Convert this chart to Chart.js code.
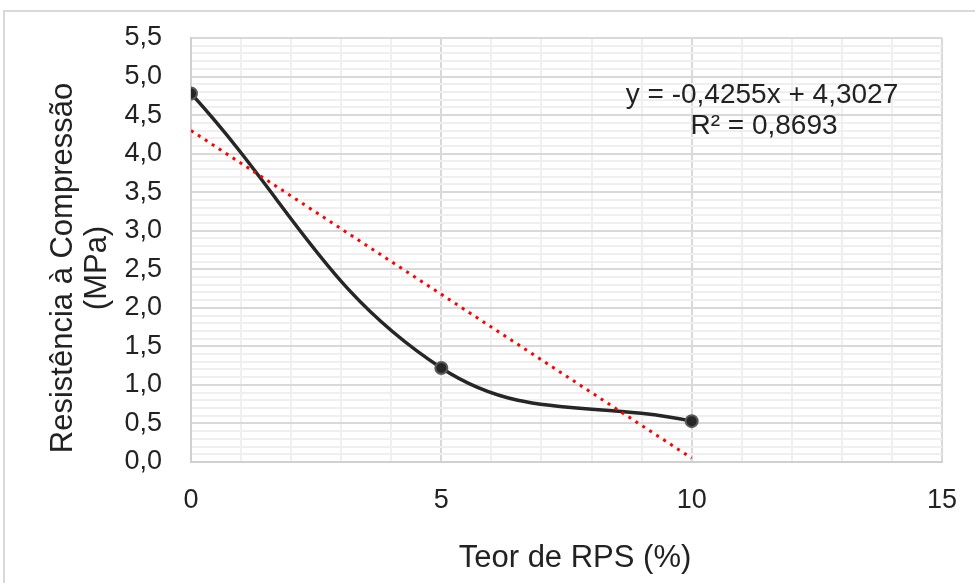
<!DOCTYPE html>
<html>
<head>
<meta charset="utf-8">
<script src="https://cdn.jsdelivr.net/npm/chart.js@4"></script>
<style>
    body { margin: 0; background: #fff; }
</style>
</head>
<body>
<canvas id="chartRPS" width="975" height="583"></canvas>
<script>
var teorRPS = [0, 5, 10];
var resistencia = [4.78, 1.22, 0.53];
var tendenciaX = [0, 10];
var tendenciaY = [4.30, 0.05];
var equacao = ["y = -0,4255x + 4,3027", "R² = 0,8693"];
var tituloX = "Teor de RPS (%)";
var tituloY = ["Resistência à Compressão", "(MPa)"];

var fonte = "'Liberation Sans', Arial, sans-serif";
var corTexto = '#222222';

function isMultiple(v, step) {
    var r = v / step;
    return Math.abs(r - Math.round(r)) < 1e-6;
}

function toPoints(xs, ys) {
    var list = [];
    for (var i = 0; i < xs.length; i++) {
        list.push({ x: xs[i], y: ys[i] });
    }
    return list;
}

// moldura cinza e textos (eixos + equacao da linha de tendencia)
var textosPlugin = {
    id: 'textos',
    beforeDraw: function (chart) {
        var ctx = chart.ctx;
        ctx.save();
        ctx.fillStyle = '#ffffff';
        ctx.fillRect(0, 0, chart.width, chart.height);
        ctx.strokeStyle = '#d9d9d9';
        ctx.lineWidth = 2;
        ctx.strokeRect(4, 11, 1200, 1200);
        ctx.restore();
    },
    afterDraw: function (chart) {
        var ctx = chart.ctx;
        ctx.save();
        ctx.fillStyle = corTexto;
        ctx.textAlign = 'center';
        ctx.textBaseline = 'alphabetic';

        ctx.font = '28px ' + fonte;
        ctx.fillText(equacao[0], 762, 103);
        ctx.fillText(equacao[1], 764, 134);

        ctx.font = '31px ' + fonte;
        ctx.fillText(tituloX, 575, 567);

        ctx.translate(0, 268);
        ctx.rotate(-Math.PI / 2);
        ctx.fillText(tituloY[0], 0, 72);
        ctx.fillText(tituloY[1], 0, 106);
        ctx.restore();
    }
};

new Chart("chartRPS", {
    type: "scatter",
    data: {
        datasets: [
            {
                label: 'Tendência',
                data: toPoints(tendenciaX, tendenciaY),
                showLine: true,
                borderColor: '#ff0000',
                borderWidth: 3,
                borderDash: [3, 5.3],
                pointRadius: 0,
                tension: 0
            },
            {
                label: 'Resistência',
                data: toPoints(teorRPS, resistencia),
                showLine: true,
                borderColor: '#262626',
                borderWidth: 3.5,
                tension: 0.4,
                pointRadius: 6,
                pointBackgroundColor: '#262626',
                pointBorderColor: '#5a5a5a',
                pointBorderWidth: 2
            }
        ]
    },
    options: {
        responsive: false,
        animation: false,
        devicePixelRatio: 1,
        layout: { autoPadding: false, padding: { left: 10, top: 38, right: 33, bottom: 0 } },
        plugins: {
            legend: { display: false },
            tooltip: { enabled: false }
        },
        scales: {
            x: {
                type: 'linear',
                min: 0,
                max: 15,
                afterFit: function (scale) {
                    scale.height = 121;
                    scale.paddingLeft = 0;
                    scale.paddingRight = 0;
                },
                ticks: {
                    stepSize: 1,
                    autoSkip: false,
                    maxRotation: 0,
                    padding: 22,
                    color: corTexto,
                    font: { family: fonte, size: 27 },
                    callback: function (v) { return isMultiple(v, 5) ? String(v) : ''; }
                },
                grid: {
                    drawTicks: false,
                    lineWidth: 2,
                    color: function (c) { return isMultiple(c.tick.value, 5) ? '#d9d9d9' : '#efefef'; }
                },
                border: { color: '#d0d0d0', width: 2 }
            },
            y: {
                min: 0,
                max: 5.5,
                afterFit: function (scale) {
                    scale.width = 181;
                    scale.paddingTop = 0;
                    scale.paddingBottom = 0;
                },
                ticks: {
                    stepSize: 0.1,
                    autoSkip: false,
                    padding: 29,
                    color: corTexto,
                    font: { family: fonte, size: 27 },
                    callback: function (v) { return isMultiple(v, 0.5) ? v.toFixed(1).replace('.', ',') : ''; }
                },
                grid: {
                    drawTicks: false,
                    lineWidth: 2,
                    color: function (c) { return isMultiple(c.tick.value, 0.5) ? '#d9d9d9' : '#efefef'; }
                },
                border: { color: '#d0d0d0', width: 2 }
            }
        }
    },
    plugins: [textosPlugin]
});
</script>
</body>
</html>
